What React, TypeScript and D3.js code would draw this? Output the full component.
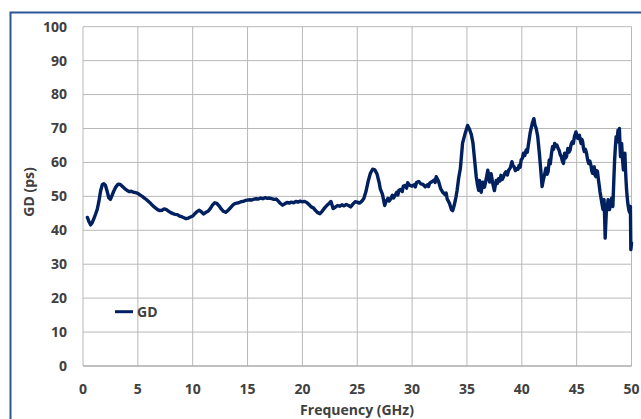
import React from "react";
import * as d3 from "d3";

// Group delay measurement, [frequency (GHz), group delay (ps)]
const gdSamples: [number, number][] = [
  [0.4, 43.8], [0.55, 42.5], [0.7, 41.6], [0.85, 42.3], [1.0, 43.5], [1.15, 44.8], [1.3, 46.2], [1.45, 48.5],
  [1.6, 51.5], [1.75, 53.4], [1.9, 53.7], [2.05, 53.2], [2.2, 51.5], [2.35, 49.6], [2.5, 49.1], [2.65, 50.3],
  [2.8, 51.5], [3.0, 52.8], [3.2, 53.6], [3.4, 53.5], [3.6, 52.9], [3.8, 52.3], [4.0, 51.8], [4.2, 51.4],
  [4.4, 51.5], [4.6, 51.2], [4.8, 51.1], [5.0, 50.9], [5.2, 50.4], [5.4, 50.0], [5.6, 49.5], [5.8, 49.0],
  [6.0, 48.4], [6.2, 47.8], [6.4, 47.1], [6.6, 46.6], [6.8, 46.1], [7.0, 45.8], [7.2, 45.9], [7.4, 46.3],
  [7.6, 46.1], [7.8, 45.6], [8.0, 45.2], [8.2, 44.9], [8.4, 44.7], [8.6, 44.6], [8.8, 44.2], [9.0, 44.0],
  [9.2, 43.7], [9.4, 43.4], [9.6, 43.6], [9.8, 43.9], [10.0, 44.2], [10.2, 44.9], [10.4, 45.5], [10.6, 45.9],
  [10.8, 45.4], [11.0, 44.8], [11.2, 45.3], [11.4, 45.6], [11.6, 46.4], [11.8, 47.4], [12.0, 48.1], [12.2, 47.9],
  [12.4, 47.2], [12.6, 46.3], [12.8, 45.6], [13.0, 45.3], [13.2, 45.8], [13.4, 46.5], [13.6, 47.2], [13.8, 47.8],
  [14.0, 48.0], [14.2, 48.1], [14.4, 48.4], [14.6, 48.5], [14.8, 48.8], [15.0, 48.9], [15.2, 49.0], [15.4, 48.9],
  [15.6, 49.2], [15.8, 49.3], [16.0, 49.2], [16.2, 49.5], [16.4, 49.3], [16.6, 49.6], [16.8, 49.4], [17.0, 49.5],
  [17.2, 49.3], [17.4, 49.1], [17.6, 49.2], [17.8, 48.6], [18.0, 47.9], [18.2, 47.4], [18.4, 47.8], [18.6, 48.2],
  [18.8, 48.0], [19.0, 48.3], [19.2, 48.1], [19.4, 48.5], [19.6, 48.3], [19.8, 48.6], [20.0, 48.4], [20.2, 48.5],
  [20.4, 48.2], [20.6, 47.6], [20.8, 46.9], [21.0, 46.6], [21.2, 45.8], [21.4, 45.2], [21.6, 44.9], [21.8, 45.6],
  [22.0, 46.5], [22.2, 47.2], [22.4, 47.8], [22.6, 48.5], [22.8, 46.4], [23.0, 46.8], [23.2, 47.3], [23.4, 47.1],
  [23.6, 47.5], [23.8, 47.2], [24.0, 47.6], [24.2, 47.3], [24.4, 46.9], [24.6, 47.7], [24.8, 48.4], [25.0, 48.3],
  [25.2, 48.0], [25.4, 48.5], [25.6, 49.4], [25.8, 51.5], [26.0, 54.5], [26.2, 56.8], [26.4, 58.0], [26.6, 57.8],
  [26.8, 56.6], [27.0, 54.0], [27.1, 52.2], [27.3, 50.6], [27.5, 47.3], [27.6, 48.3], [27.8, 49.4], [27.9, 48.6],
  [28.0, 49.0], [28.2, 50.3], [28.3, 49.5], [28.4, 50.0], [28.6, 51.2], [28.7, 50.4], [28.8, 51.8], [29.0, 52.1],
  [29.1, 51.4], [29.2, 53.0], [29.4, 53.2], [29.5, 52.4], [29.6, 54.0], [29.8, 53.2], [30.0, 53.0], [30.2, 53.4],
  [30.3, 52.8], [30.4, 54.1], [30.6, 54.4], [30.8, 53.7], [31.0, 53.5], [31.2, 52.8], [31.4, 53.4], [31.5, 52.9],
  [31.6, 53.9], [31.8, 54.3], [32.0, 54.8], [32.1, 54.1], [32.2, 55.8], [32.4, 54.5], [32.6, 52.3], [32.8, 51.2],
  [33.0, 50.5], [33.1, 51.0], [33.2, 49.2], [33.4, 48.0], [33.6, 46.0], [33.7, 45.8], [33.85, 47.5], [34.0, 49.8],
  [34.1, 51.7], [34.25, 55.5], [34.4, 58.2], [34.6, 65.7], [34.85, 68.7], [35.06, 70.9], [35.24, 69.7], [35.4, 68.2],
  [35.55, 65.7], [35.7, 60.7], [35.85, 55.7], [35.97, 53.2], [36.07, 51.8], [36.15, 54.7], [36.3, 51.2], [36.45, 54.2],
  [36.6, 52.7], [36.76, 55.2], [36.9, 57.7], [37.06, 54.2], [37.2, 56.7], [37.36, 53.7], [37.5, 51.7], [37.67, 54.7],
  [37.78, 53.8], [37.88, 55.2], [38.0, 54.5], [38.1, 56.2], [38.22, 55.0], [38.33, 55.7], [38.45, 56.8], [38.55, 57.2],
  [38.68, 56.3], [38.8, 57.7], [38.95, 58.4], [39.1, 60.2], [39.2, 59.0], [39.3, 58.7], [39.42, 57.6], [39.55, 58.2],
  [39.66, 58.0], [39.76, 59.2], [39.85, 58.6], [39.94, 60.7], [40.05, 61.2], [40.15, 62.7], [40.27, 62.0], [40.4, 63.7],
  [40.5, 63.0], [40.6, 65.2], [40.76, 68.7], [40.97, 71.7], [41.1, 72.9], [41.2, 71.0], [41.3, 70.2], [41.45, 67.7],
  [41.6, 62.7], [41.73, 57.7], [41.85, 52.9], [41.95, 54.6], [42.07, 56.3], [42.2, 58.3], [42.3, 56.5], [42.4, 57.3],
  [42.5, 60.7], [42.6, 59.6], [42.7, 62.5], [42.8, 64.6], [42.9, 63.9], [43.0, 65.6], [43.1, 64.8], [43.2, 65.1],
  [43.3, 64.2], [43.4, 63.6], [43.5, 62.3], [43.6, 61.7], [43.7, 60.4], [43.8, 59.7], [43.9, 62.7], [44.0, 61.3],
  [44.07, 61.7], [44.2, 64.1], [44.3, 63.0], [44.4, 63.6], [44.5, 65.4], [44.6, 66.1], [44.7, 65.6], [44.8, 67.6],
  [44.94, 69.0], [45.02, 67.9], [45.1, 67.1], [45.25, 68.0], [45.33, 66.5], [45.4, 65.6], [45.48, 66.8], [45.55, 66.1],
  [45.62, 64.2], [45.7, 63.2], [45.8, 63.9], [45.9, 62.7], [46.0, 60.8], [46.1, 59.7], [46.2, 60.4], [46.3, 59.2],
  [46.38, 57.5], [46.45, 56.8], [46.52, 58.4], [46.6, 58.7], [46.68, 56.2], [46.76, 55.8], [46.83, 57.6], [46.9, 57.3],
  [47.0, 54.5], [47.07, 52.9], [47.13, 51.3], [47.2, 50.0], [47.3, 48.0], [47.4, 46.1], [47.46, 48.5], [47.5, 49.0],
  [47.55, 44.0], [47.6, 37.7], [47.65, 41.5], [47.7, 45.1], [47.78, 46.8], [47.87, 49.0], [47.94, 47.2], [48.0, 46.1],
  [48.1, 48.0], [48.2, 49.5], [48.25, 47.8], [48.3, 47.0], [48.38, 54.0], [48.46, 60.7], [48.53, 64.5], [48.6, 67.6],
  [48.68, 66.0], [48.77, 69.5], [48.85, 68.3], [48.9, 70.0], [48.95, 65.0], [49.0, 61.7], [49.05, 63.5], [49.1, 65.6],
  [49.18, 61.0], [49.26, 57.8], [49.33, 60.5], [49.4, 62.7], [49.45, 58.0], [49.5, 54.8], [49.55, 52.0], [49.6, 50.0],
  [49.68, 47.5], [49.75, 46.1], [49.82, 45.3], [49.9, 47.0], [49.94, 34.3], [49.97, 35.2], [50.0, 36.3],
];

const xTicks: number[] = [0, 5, 10, 15, 20, 25, 30, 35, 40, 45, 50];
const yTicks: number[] = [0, 10, 20, 30, 40, 50, 60, 70, 80, 90, 100];
const seriesName = "GD";
const xTitle = "Frequency (GHz)";
const yTitle = "GD (ps)";

const W = 641;
const H = 419;
const plot = { left: 83, right: 631.5, top: 26.7, bottom: 366 };
const FONT = "'Open Sans', 'DejaVu Sans', sans-serif";
const TEXT = "#404040";
const GRID = "#b8b8b8";
const LINE = "#002060";

export default function App() {
  const x = d3.scaleLinear().domain([0, 50]).range([plot.left, plot.right]);
  const y = d3.scaleLinear().domain([0, 100]).range([plot.bottom, plot.top]);

  const path = d3
    .line<[number, number]>()
    .x((d) => x(d[0]))
    .y((d) => y(d[1]))(gdSamples);

  return (
    <svg
      width={W}
      height={H}
      style={{ position: "absolute", left: 0, top: 0, background: "#fff" }}
      fontFamily={FONT}
    >
      <rect x={0} y={0} width={W} height={H} fill="#fff" />
      {/* chart frame */}
      <rect x={10.5} y={12.5} width={W + 10} height={H + 10} fill="none" stroke="#2f5597" strokeWidth={2} />

      {/* grid */}
      {yTicks.map((t) => (
        <line key={"gy" + t} x1={plot.left} x2={plot.right} y1={y(t)} y2={y(t)} stroke={GRID} strokeWidth={1} />
      ))}
      {xTicks.map((t) => (
        <line key={"gx" + t} x1={x(t)} x2={x(t)} y1={plot.top} y2={plot.bottom} stroke={GRID} strokeWidth={1} />
      ))}
      <line x1={plot.left} x2={plot.right} y1={plot.bottom} y2={plot.bottom} stroke="#a6a6a6" strokeWidth={1} />

      {/* tick labels */}
      {yTicks.map((t) => (
        <text
          key={"ly" + t}
          x={67}
          y={y(t)}
          dy="0.35em"
          textAnchor="end"
          fontSize={14}
          fontWeight={700}
          fill={TEXT}
        >
          {t}
        </text>
      ))}
      {xTicks.map((t) => (
        <text
          key={"lx" + t}
          x={x(t)}
          y={389}
          dy="0.35em"
          textAnchor="middle"
          fontSize={14}
          fontWeight={700}
          fill={TEXT}
        >
          {t}
        </text>
      ))}

      {/* axis titles */}
      <text x={357} y={415} textAnchor="middle" fontSize={14} fontWeight={700} fill={TEXT}>
        {xTitle}
      </text>
      <text
        transform={`translate(33.5, 192) rotate(-90)`}
        textAnchor="middle"
        fontSize={14}
        fontWeight={700}
        fill={TEXT}
      >
        {yTitle}
      </text>

      {/* series */}
      <path d={path ?? ""} fill="none" stroke={LINE} strokeWidth={3.4} strokeLinejoin="round" strokeLinecap="round" />

      {/* legend */}
      <line x1={115} x2={133} y1={311.7} y2={311.7} stroke={LINE} strokeWidth={3} />
      <text x={137} y={311.7} dy="0.35em" fontSize={14} fontWeight={700} fill={TEXT}>
        {seriesName}
      </text>
    </svg>
  );
}
